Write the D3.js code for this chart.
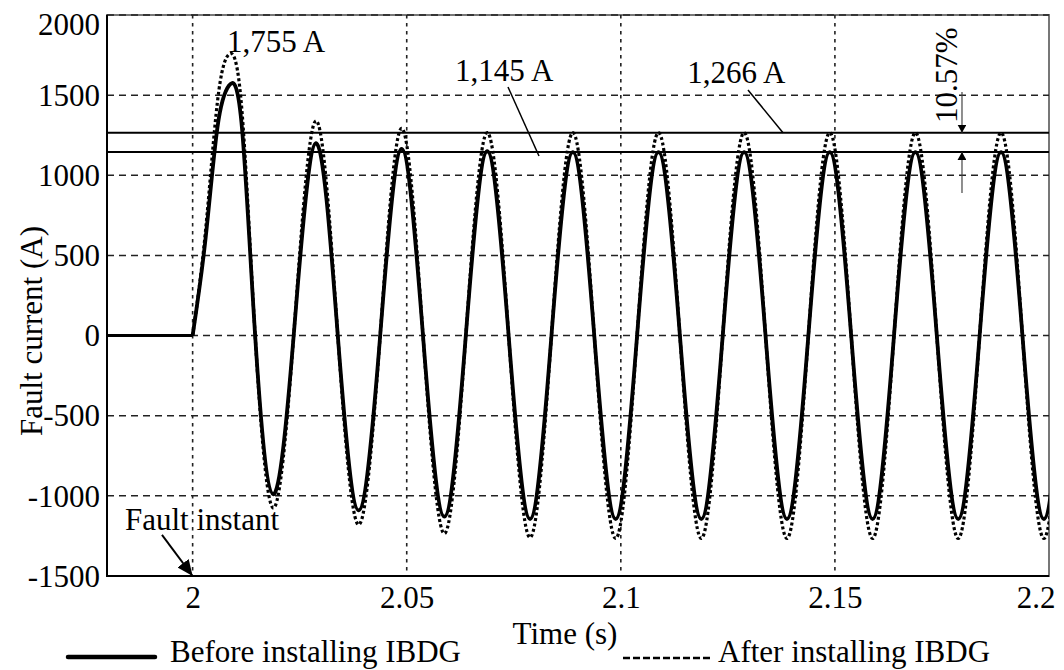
<!DOCTYPE html>
<html>
<head>
<meta charset="utf-8">
<script src="https://cdn.jsdelivr.net/npm/d3@7"></script>
<style>
  html, body { margin: 0; padding: 0; background: #fff; }
  svg { display: block; }
  svg text { font-family: "Liberation Serif", "Times New Roman", Times, "DejaVu Serif", serif; }
</style>
</head>
<body>
<svg id="chart" width="1064" height="670"></svg>
<script>
// ---- data -------------------------------------------------------------
// Sample instants (s) after the fault, shared by both traces
const sampleTimes = [
  2.0000, 2.0030, 2.0058, 2.0085, 2.0114, 2.0146, 2.0188, 2.0236, 2.0288, 2.0339,
  2.0388, 2.0438, 2.0488, 2.0538, 2.0588, 2.0638, 2.0688, 2.0738, 2.0788, 2.0838,
  2.0888, 2.0938, 2.0988, 2.1038, 2.1088, 2.1138, 2.1188, 2.1238, 2.1288, 2.1338,
  2.1388, 2.1438, 2.1488, 2.1538, 2.1588, 2.1638, 2.1688, 2.1738, 2.1788, 2.1838,
  2.1888, 2.1938, 2.1988, 2.2038
];
// Fault current (A) before installing the IBDG
const currentBefore = [
  0, 600, 1300, 1560, 1330, 0, -990, 0, 1200, 0,
  -1090, 0, 1165, 0, -1130, 0, 1150, 0, -1145, 0,
  1145, 0, -1145, 0, 1145, 0, -1145, 0, 1145, 0,
  -1145, 0, 1145, 0, -1145, 0, 1145, 0, -1145, 0,
  1145, 0, -1145, 0
];
// Fault current (A) after installing the IBDG
const currentAfter = [
  0, 650, 1460, 1755, 1440, 0, -1075, 0, 1340, 0,
  -1180, 0, 1293, 0, -1235, 0, 1266, 0, -1260, 0,
  1266, 0, -1266, 0, 1266, 0, -1266, 0, 1266, 0,
  -1266, 0, 1266, 0, -1266, 0, 1266, 0, -1266, 0,
  1266, 0, -1266, 0
];
// Pre-fault interval (no current)
const preFaultTimes = [1.98, 2.0];
const preFaultCurrent = [0, 0];

const xTicks = [2, 2.05, 2.1, 2.15, 2.2];
const xTickLabels = ["2", "2.05", "2.1", "2.15", "2.2"];
const yTicks = [-1500, -1000, -500, 0, 500, 1000, 1500, 2000];
const yTickLabels = ["-1500", "-1000", "-500", "0", "500", "1000", "1500", "2000"];

// Steady-state peak levels (A)
const steadyLevels = [1266, 1145];
const firstPeakAfter = 1755;
const increasePct = 10.57;

// ---- layout -----------------------------------------------------------
const svg = d3.select("#chart");
const plot = { left: 107, right: 1049, top: 15, bottom: 576 };
const FONT = 31;

const x = d3.scaleLinear().domain([1.98, 2.2]).range([plot.left, plot.right]);
const y = d3.scaleLinear().domain([-1500, 2000]).range([plot.bottom, plot.top]);

const defs = svg.append("defs");
defs.append("clipPath").attr("id", "plotClip")
  .append("rect")
  .attr("x", plot.left).attr("y", plot.top)
  .attr("width", plot.right - plot.left).attr("height", plot.bottom - plot.top);

const arrowHead = (id, w, l) => {
  defs.append("marker").attr("id", id)
    .attr("viewBox", `0 ${-w / 2} ${l} ${w}`)
    .attr("refX", l).attr("refY", 0)
    .attr("markerWidth", l).attr("markerHeight", w)
    .attr("markerUnits", "userSpaceOnUse")
    .attr("orient", "auto")
    .append("path")
    .attr("d", `M0,${-w / 2}L${l},0L0,${w / 2}Z`)
    .attr("fill", "#000");
};
arrowHead("headBig", 14, 16);
arrowHead("headSmall", 9, 8);

// ---- frame & grid -----------------------------------------------------
svg.append("rect")
  .attr("x", plot.left).attr("y", plot.top)
  .attr("width", plot.right - plot.left).attr("height", plot.bottom - plot.top)
  .attr("fill", "none").attr("stroke", "#777").attr("stroke-width", 2);

const grid = svg.append("g");
grid.selectAll("line.h").data(yTicks.filter(v => v > -1500)).join("line")
  .attr("x1", plot.left).attr("x2", plot.right)
  .attr("y1", d => y(d)).attr("y2", d => y(d))
  .attr("stroke", "#222").attr("stroke-width", 1.5)
  .attr("stroke-dasharray", "7 5");
grid.selectAll("line.v").data(xTicks.filter(v => v < 2.2)).join("line")
  .attr("x1", d => x(d)).attr("x2", d => x(d))
  .attr("y1", plot.top).attr("y2", plot.bottom)
  .attr("stroke", "#222").attr("stroke-width", 1.6)
  .attr("stroke-dasharray", "3.5 4.5");

// left and bottom axis lines
svg.append("line").attr("x1", plot.left).attr("x2", plot.left)
  .attr("y1", plot.top).attr("y2", plot.bottom + 1)
  .attr("stroke", "#000").attr("stroke-width", 2);
svg.append("line").attr("x1", plot.left - 1).attr("x2", plot.right)
  .attr("y1", plot.bottom).attr("y2", plot.bottom)
  .attr("stroke", "#000").attr("stroke-width", 2);

// ---- traces -----------------------------------------------------------
const traces = svg.append("g").attr("clip-path", "url(#plotClip)");
const lineGen = d3.line().x(d => x(d[0])).y(d => y(d[1])).curve(d3.curveNatural);
const flatGen = d3.line().x(d => x(d[0])).y(d => y(d[1]));

const afterPts = sampleTimes.map((t, i) => [t, currentAfter[i]]);
const beforePts = sampleTimes.map((t, i) => [t, currentBefore[i]]);
const prePts = preFaultTimes.map((t, i) => [t, preFaultCurrent[i]]);

traces.append("path").datum(afterPts).attr("d", lineGen)
  .attr("fill", "none").attr("stroke", "#000").attr("stroke-width", 3.2)
  .attr("stroke-dasharray", "3 2.5");
traces.append("path").datum(beforePts).attr("d", lineGen)
  .attr("fill", "none").attr("stroke", "#000").attr("stroke-width", 3.8)
  .attr("stroke-linejoin", "round");
traces.append("path").datum(prePts).attr("d", flatGen)
  .attr("fill", "none").attr("stroke", "#000").attr("stroke-width", 3);

// steady-state peak reference lines
svg.append("g").selectAll("line").data(steadyLevels).join("line")
  .attr("x1", plot.left).attr("x2", plot.right)
  .attr("y1", d => y(d)).attr("y2", d => y(d))
  .attr("stroke", "#000").attr("stroke-width", 2);

// ---- axes -------------------------------------------------------------
const yAxis = svg.append("g").attr("transform", `translate(${plot.left},0)`)
  .call(d3.axisLeft(y).tickValues(yTicks).tickSize(0).tickPadding(7)
    .tickFormat((d, i) => yTickLabels[i]));
yAxis.attr("font-size", FONT).attr("font-family", null);
yAxis.select(".domain").remove();
yAxis.selectAll("text")
  .attr("fill", "#000")
  .attr("dy", d => d === 2000 ? "0.63em" : "0.33em");

const xAxis = svg.append("g").attr("transform", `translate(0,${plot.bottom})`)
  .call(d3.axisBottom(x).tickValues(xTicks).tickSize(0).tickPadding(0)
    .tickFormat((d, i) => xTickLabels[i]));
xAxis.attr("font-size", FONT).attr("font-family", null);
xAxis.select(".domain").remove();
xAxis.selectAll("text")
  .attr("fill", "#000")
  .attr("y", 32).attr("dy", 0)
  .attr("text-anchor", d => d === 2.2 ? "end" : "middle")
  .attr("x", d => d === 2.2 ? 6 : 0);

svg.append("text").attr("x", 565).attr("y", 644)
  .attr("text-anchor", "middle").attr("font-size", FONT).text("Time (s)");
svg.append("text").attr("transform", "translate(42,331) rotate(-90)")
  .attr("text-anchor", "middle").attr("font-size", FONT).text("Fault current (A)");

// ---- annotations ------------------------------------------------------
const fmt = d3.format(",");
const ann = svg.append("g").attr("font-size", FONT);

ann.append("text").attr("x", x(2.0080)).attr("y", y(1769))
  .text(`${fmt(firstPeakAfter)} A`);
ann.append("text").attr("x", x(2.0613)).attr("y", y(1588))
  .text(`${fmt(steadyLevels[1])} A`);
ann.append("text").attr("x", x(2.1155)).attr("y", y(1576))
  .text(`${fmt(steadyLevels[0])} A`);

ann.append("line")
  .attr("x1", x(2.07365)).attr("y1", y(1551))
  .attr("x2", x(2.08089)).attr("y2", y(1120))
  .attr("stroke", "#000").attr("stroke-width", 1.5);
ann.append("line")
  .attr("x1", x(2.1297)).attr("y1", y(1532))
  .attr("x2", x(2.13788)).attr("y2", y(steadyLevels[0]))
  .attr("stroke", "#000").attr("stroke-width", 1.5);

// percentage increase of the steady-state peak
const tPct = 2.17968;
ann.append("text")
  .attr("transform", `translate(${x(2.17851)},${y(1326)}) rotate(-90)`)
  .text(`${increasePct}%`);
ann.append("line")
  .attr("x1", x(tPct)).attr("y1", y(1520))
  .attr("x2", x(tPct)).attr("y2", y(steadyLevels[0]))
  .attr("stroke", "#444").attr("stroke-width", 1.2)
  .attr("marker-end", "url(#headSmall)");
ann.append("line")
  .attr("x1", x(tPct)).attr("y1", y(889))
  .attr("x2", x(tPct)).attr("y2", y(steadyLevels[1]))
  .attr("stroke", "#444").attr("stroke-width", 1.2)
  .attr("marker-end", "url(#headSmall)");

// fault instant marker
ann.append("text").attr("x", x(1.98420)).attr("y", y(-1213)).text("Fault instant");
ann.append("line")
  .attr("x1", x(1.99284)).attr("y1", y(-1244))
  .attr("x2", x(2.0)).attr("y2", y(-1500))
  .attr("stroke", "#000").attr("stroke-width", 2)
  .attr("marker-end", "url(#headBig)");

// ---- legend -----------------------------------------------------------
const legend = svg.append("g").attr("font-size", FONT);
legend.append("line").attr("x1", 68).attr("x2", 155).attr("y1", 657).attr("y2", 657)
  .attr("stroke", "#000").attr("stroke-width", 4.5).attr("stroke-linecap", "round");
legend.append("text").attr("x", 170).attr("y", 662).text("Before installing IBDG");
legend.append("line").attr("x1", 623).attr("x2", 711).attr("y1", 658).attr("y2", 658)
  .attr("stroke", "#000").attr("stroke-width", 2.5).attr("stroke-dasharray", "7 3");
legend.append("text").attr("x", 718).attr("y", 662).text("After installing IBDG");
</script>
</body>
</html>
